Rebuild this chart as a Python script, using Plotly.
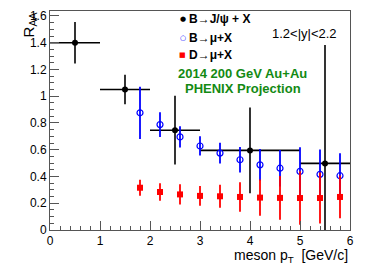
import plotly.graph_objects as go

# B -> J/psi + X
bjpsi_x = [0.5, 1.5, 2.5, 4.0, 5.5]
bjpsi_xerr = [0.5, 0.5, 0.5, 1.0, 0.5]
bjpsi_y = [1.40, 1.05, 0.746, 0.595, 0.498]
bjpsi_yerr = [0.155, 0.11, 0.257, 0.32, 0.885]

# B -> mu + X
bmu_x = [1.8, 2.2, 2.6, 3.0, 3.4, 3.8, 4.2, 4.6, 5.0, 5.4, 5.8]
bmu_y = [0.876, 0.788, 0.696, 0.628, 0.575, 0.525, 0.487, 0.462, 0.438, 0.416, 0.406]
bmu_yerr = [0.195, 0.092, 0.08, 0.072, 0.078, 0.095, 0.118, 0.136, 0.18, 0.185, 0.168]

# D -> mu + X
dmu_x = [1.8, 2.2, 2.6, 3.0, 3.4, 3.8, 4.2, 4.6, 5.0, 5.4, 5.8]
dmu_y = [0.316, 0.284, 0.266, 0.255, 0.252, 0.247, 0.242, 0.240, 0.239, 0.239, 0.247]
dmu_yerr = [0.06, 0.066, 0.076, 0.074, 0.086, 0.11, 0.135, 0.164, 0.2, 0.19, 0.16]

series_names = ["B\u2192J/\u03c8 + X", "B\u2192\u03bc+X", "D\u2192\u03bc+X"]

y_ticks = [0, 0.2, 0.4, 0.6, 0.8, 1.0, 1.2, 1.4, 1.6]
y_ticklabels = ["0", "0.2", "0.4", "0.6", "0.8", "1", "1.2", "1.4", "1.6"]
x_ticks = [0, 1, 2, 3, 4, 5, 6]

FONT = "Liberation Sans, Arial, Helvetica, sans-serif"

fig = go.Figure()
fig.add_trace(go.Scatter(
    x=bjpsi_x, y=bjpsi_y, mode="markers", name=series_names[0],
    marker=dict(symbol="circle", size=6, color="black"),
    error_x=dict(type="data", array=bjpsi_xerr, color="black", thickness=1.6, width=0),
    error_y=dict(type="data", array=bjpsi_yerr, color="black", thickness=1.6, width=0),
))
fig.add_trace(go.Scatter(
    x=bmu_x, y=bmu_y, mode="markers", name=series_names[1],
    marker=dict(symbol="circle-open", size=6, color="#0000ff", line=dict(width=1.2, color="#0000ff")),
    error_y=dict(type="data", array=bmu_yerr, color="#0000ff", thickness=1.8, width=0),
))
fig.add_trace(go.Scatter(
    x=dmu_x, y=dmu_y, mode="markers", name=series_names[2],
    marker=dict(symbol="square", size=6, color="#ff0000"),
    error_y=dict(type="data", array=dmu_yerr, color="#ff0000", thickness=1.8, width=0),
))

axis_common = dict(
    showline=True, linecolor="#555555", linewidth=1, mirror=True,
    ticks="inside", tickcolor="#555555", tickwidth=1, ticklen=9,
    showgrid=False, zeroline=False,
    tickfont=dict(family=FONT, size=12, color="black"),
)

fig.update_xaxes(range=[0, 6], tickmode="array", tickvals=x_ticks,
                 minor=dict(dtick=0.2, ticks="inside", ticklen=4, tickcolor="#555555", showgrid=False),
                 **axis_common)
fig.update_yaxes(range=[0, 1.637], tickmode="array", tickvals=y_ticks, ticktext=y_ticklabels,
                 minor=dict(dtick=0.05, ticks="inside", ticklen=4, tickcolor="#555555", showgrid=False),
                 **axis_common)

# manual legend (symbol glyph + bold label)
legend_glyphs = [("\u25cf", "black", 7), ("\u25cb", "#0000ff", 7), ("\u25a0", "#ff0000", 7)]
legend_y = [0.964, 0.876, 0.799]
annotations = []
for (g, c, s), yy, nm in zip(legend_glyphs, legend_y, series_names):
    annotations.append(dict(text=g, xref="paper", yref="paper", x=0.443, y=yy,
                            xanchor="center", yanchor="middle", showarrow=False,
                            font=dict(family="DejaVu Sans", size=s, color=c)))
    annotations.append(dict(text="<b>" + nm + "</b>", xref="paper", yref="paper", x=0.458, y=yy,
                            xanchor="left", yanchor="middle", showarrow=False,
                            font=dict(family=FONT, size=12, color="black")))

annotations += [
    dict(text="R<sub>AA</sub>", textangle=-90, xref="paper", yref="paper",
         x=-0.07, y=1.005, xanchor="center", yanchor="top", showarrow=False,
         font=dict(family=FONT, size=15, color="black")),
    dict(text="meson p<sub>T</sub>  [GeV/c]", xref="paper", yref="paper",
         x=1.0, y=-0.068, xanchor="right", yanchor="top", showarrow=False,
         font=dict(family=FONT, size=14, color="black")),
    dict(text="1.2&lt;|y|&lt;2.2", xref="paper", yref="paper",
         x=0.847, y=0.896, xanchor="center", yanchor="middle", showarrow=False,
         font=dict(family=FONT, size=13, color="black")),
    dict(text="<b>2014 200 GeV Au+Au</b>", xref="paper", yref="paper",
         x=0.64, y=0.715, xanchor="center", yanchor="middle", showarrow=False,
         font=dict(family=FONT, size=13, color="#138a13")),
    dict(text="<b>PHENIX Projection</b>", xref="paper", yref="paper",
         x=0.643, y=0.647, xanchor="center", yanchor="middle", showarrow=False,
         font=dict(family=FONT, size=13, color="#138a13")),
]

fig.update_layout(
    width=374, height=275,
    margin=dict(l=50, r=24, t=9, b=45),
    paper_bgcolor="white", plot_bgcolor="white",
    font=dict(family=FONT, color="black"),
    showlegend=False,
    annotations=annotations,
)

fig.write_html("out.html", config={"displayModeBar": False},
               post_script="document.body.style.margin='0';")
